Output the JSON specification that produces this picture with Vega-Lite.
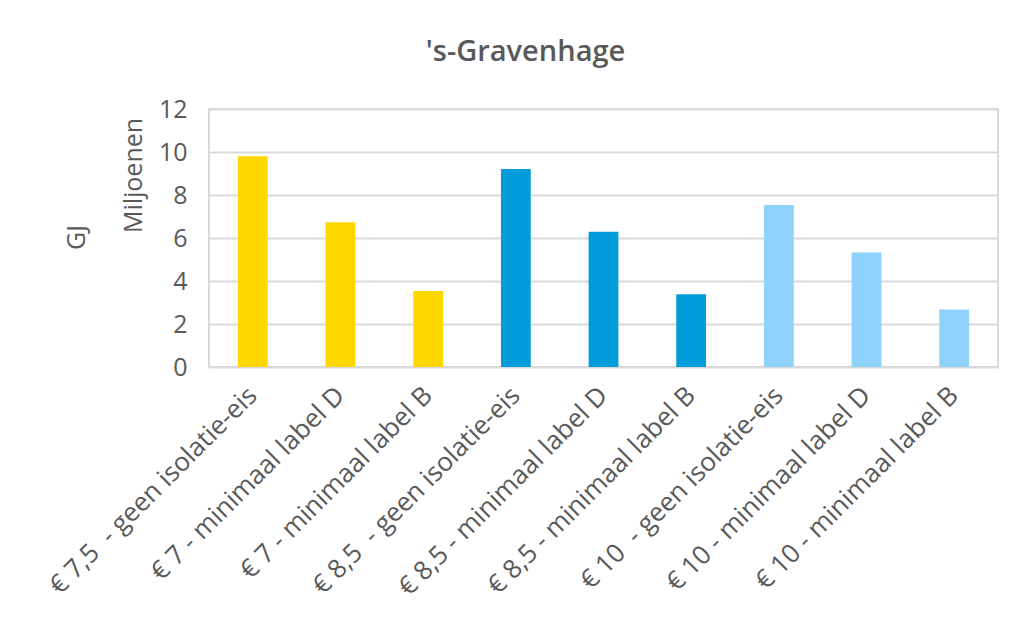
{
  "$schema": "https://vega.github.io/schema/vega-lite/v6.json",
  "width": 789,
  "height": 258,
  "autosize": {"type": "none"},
  "padding": {"left": 209, "top": 109, "right": 30, "bottom": 252},
  "background": "white",
  "title": {
    "text": "'s-Gravenhage",
    "font": "Open Sans",
    "fontSize": 29,
    "fontWeight": 600,
    "color": "#595959",
    "anchor": "middle",
    "dx": -78,
    "offset": 30
  },
  "data": {
    "values": [
      {"scenario": "€ 7,5\u00a0 - geen isolatie-eis", "group": "€7", "value": 9.8},
      {"scenario": "€ 7 - minimaal label D", "group": "€7", "value": 6.73},
      {"scenario": "€ 7 - minimaal label B", "group": "€7", "value": 3.53},
      {"scenario": "€ 8,5\u00a0 - geen isolatie-eis", "group": "€8,5", "value": 9.21},
      {"scenario": "€ 8,5 - minimaal label D", "group": "€8,5", "value": 6.29},
      {"scenario": "€ 8,5 - minimaal label B", "group": "€8,5", "value": 3.38},
      {"scenario": "€ 10\u00a0 - geen isolatie-eis", "group": "€10", "value": 7.53},
      {"scenario": "€ 10 - minimaal label D", "group": "€10", "value": 5.33},
      {"scenario": "€ 10 - minimaal label B", "group": "€10", "value": 2.67}
    ]
  },
  "encoding": {
    "x": {
      "field": "scenario",
      "type": "nominal",
      "sort": null,
      "scale": {"paddingInner": 0.66, "paddingOuter": 0.33},
      "axis": {
        "title": null,
        "labelAngle": -45,
        "labelAlign": "right",
        "labelBaseline": "middle",
        "labelFont": "Open Sans",
        "labelFontSize": 26,
        "labelColor": "#595959",
        "labelPadding": 24,
        "labelLimit": 0,
        "labelOverlap": false,
        "ticks": false,
        "domain": false,
        "grid": false
      }
    }
  },
  "layer": [
    {
      "mark": {"type": "bar"},
      "encoding": {
        "y": {
          "field": "value",
          "type": "quantitative",
          "scale": {"domain": [0, 12]},
          "axis": {
            "orient": "left",
            "values": [0, 2, 4, 6, 8, 10, 12],
            "title": "Miljoenen",
            "titleFont": "Open Sans",
            "titleFontSize": 25,
            "titleFontWeight": "normal",
            "titleColor": "#595959",
            "titleAngle": -90,
            "titleAlign": "center",
            "titleBaseline": "middle",
            "titleX": -76,
            "titleY": 66,
            "labelFont": "Open Sans",
            "labelFontSize": 25,
            "labelColor": "#595959",
            "labelPadding": 22,
            "ticks": false,
            "domain": false,
            "grid": true,
            "gridColor": "#d9d9d9",
            "gridWidth": 2
          }
        },
        "color": {
          "field": "group",
          "type": "nominal",
          "scale": {"domain": ["€7", "€8,5", "€10"], "range": ["#FFD700", "#009DDA", "#8ED1FA"]},
          "legend": null
        }
      }
    },
    {
      "mark": {"type": "bar", "opacity": 0},
      "encoding": {
        "y": {
          "field": "value",
          "type": "quantitative",
          "scale": {"domain": [0, 12]},
          "axis": {
            "orient": "left",
            "title": "GJ",
            "titleFont": "Open Sans",
            "titleFontSize": 25,
            "titleFontWeight": "normal",
            "titleColor": "#595959",
            "titleAngle": -90,
            "titleAlign": "center",
            "titleBaseline": "middle",
            "titleX": -133,
            "titleY": 128,
            "labels": false,
            "ticks": false,
            "domain": false,
            "grid": false
          }
        }
      }
    }
  ],
  "resolve": {"axis": {"y": "independent"}},
  "config": {"view": {"stroke": "#d9d9d9", "strokeWidth": 2}}
}
